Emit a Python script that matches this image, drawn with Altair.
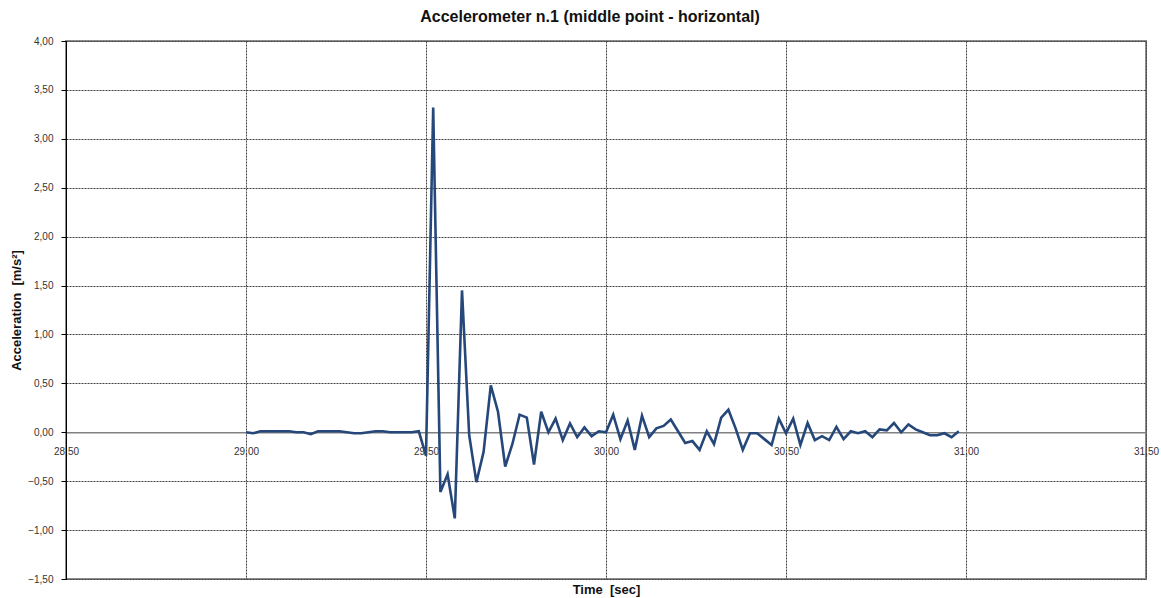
import altair as alt
import pandas as pd

# sample times (s)
time_s = [
    29.00, 29.02, 29.04, 29.06, 29.08, 29.10, 29.12, 29.14, 29.16, 29.18,
    29.20, 29.22, 29.24, 29.26, 29.28, 29.30, 29.32, 29.34, 29.36, 29.38,
    29.40, 29.42, 29.44, 29.46, 29.48, 29.50, 29.52, 29.54, 29.56, 29.58,
    29.60, 29.62, 29.64, 29.66, 29.68, 29.70, 29.72, 29.74, 29.76, 29.78,
    29.80, 29.82, 29.84, 29.86, 29.88, 29.90, 29.92, 29.94, 29.96, 29.98,
    30.00, 30.02, 30.04, 30.06, 30.08, 30.10, 30.12, 30.14, 30.16, 30.18,
    30.20, 30.22, 30.24, 30.26, 30.28, 30.30, 30.32, 30.34, 30.36, 30.38,
    30.40, 30.42, 30.44, 30.46, 30.48, 30.50, 30.52, 30.54, 30.56, 30.58,
    30.60, 30.62, 30.64, 30.66, 30.68, 30.70, 30.72, 30.74, 30.76, 30.78,
    30.80, 30.82, 30.84, 30.86, 30.88, 30.90, 30.92, 30.94, 30.96, 30.98,
]

# acceleration (m/s^2)
accel = [
    0.00, -0.01, 0.01, 0.01, 0.01, 0.01, 0.01, 0.00, 0.00, -0.02,
    0.01, 0.01, 0.01, 0.01, 0.00, -0.01, -0.01, 0.00, 0.01, 0.01,
    0.00, 0.00, 0.00, 0.00, 0.01, -0.24, 3.32, -0.61, -0.43, -0.88,
    1.45, -0.03, -0.51, -0.20, 0.48, 0.21, -0.35, -0.12, 0.18, 0.15,
    -0.33, 0.21, 0.00, 0.14, -0.08, 0.09, -0.05, 0.05, -0.04, 0.01,
    0.00, 0.18, -0.07, 0.12, -0.18, 0.17, -0.05, 0.04, 0.065, 0.13,
    0.01, -0.11, -0.09, -0.18, 0.01, -0.12, 0.15, 0.23, 0.04, -0.18,
    -0.01, -0.01, -0.07, -0.13, 0.14, -0.01, 0.14, -0.13, 0.095, -0.08,
    -0.04, -0.08, 0.055, -0.07, 0.01, -0.01, 0.01, -0.05, 0.03, 0.02,
    0.095, 0.00, 0.08, 0.03, 0.00, -0.03, -0.03, -0.01, -0.05, 0.01,
]

x_ticks = [28.5, 29.0, 29.5, 30.0, 30.5, 31.0, 31.5]
y_ticks = [-1.5, -1.0, -0.5, 0.0, 0.5, 1.0, 1.5, 2.0, 2.5, 3.0, 3.5, 4.0]

df = pd.DataFrame({"t": time_s, "a": accel})

FONT = "Liberation Sans"
label_expr = "replace(format(datum.value, '.2f'), '.', ',')"

chart = (
    alt.Chart(df)
    .mark_line(color="#25477A", strokeWidth=2.6)
    .encode(
        x=alt.X(
            "t:Q",
            scale=alt.Scale(domain=[28.5, 31.5], nice=False, zero=False),
            axis=alt.Axis(
                values=x_ticks,
                labelExpr=label_expr,
                orient="bottom",
                offset=-146.7,
                domainColor="#808080",
                domainWidth=1.5,
                tickSize=0,
                labelPadding=14,
                labelFlush=False,
                labelFontSize=10,
                labelColor="#333333",
                labelFont=FONT,
                title="Time \u00a0[sec]",
                titleFont=FONT,
                titleFontSize=13,
                titleFontWeight="bold",
                titleColor="#111111",
                titleBaseline="middle",
                titleY=157,
                grid=True,
                gridColor="#404040",
                gridDash=[2, 1],
                gridWidth=1,
            ),
        ),
        y=alt.Y(
            "a:Q",
            scale=alt.Scale(domain=[-1.5, 4.0], nice=False, zero=False),
            axis=alt.Axis(
                values=y_ticks,
                labelExpr=label_expr,
                labelFlush=False,
                domainColor="#000000",
                domainWidth=1,
                tickColor="#000000",
                tickSize=5,
                labelPadding=8,
                labelFontSize=10,
                labelColor="#333333",
                labelFont=FONT,
                title="Acceleration \u00a0[m/s²]",
                titleFont=FONT,
                titleFontSize=13,
                titleFontWeight="bold",
                titleColor="#111111",
                titlePadding=4,
                grid=True,
                gridColor="#404040",
                gridDash=[2, 1],
                gridWidth=1,
            ),
        ),
    )
    .properties(
        width=1080,
        height=538,
        title=alt.TitleParams(
            "Accelerometer n.1 (middle point - horizontal)",
            font=FONT,
            fontSize=16,
            fontWeight="bold",
            color="#111111",
            anchor="middle",
            offset=11,
            dx=-16,
        ),
        autosize=alt.AutoSizeParams(type="none"),
        padding={"left": 66, "top": 41, "right": 15, "bottom": 19},
    )
    .configure(background="white")
    .configure_view(stroke="#8c8c8c", strokeWidth=2)
)

chart.save("out.html", embed_options={"renderer": "svg", "actions": False})
